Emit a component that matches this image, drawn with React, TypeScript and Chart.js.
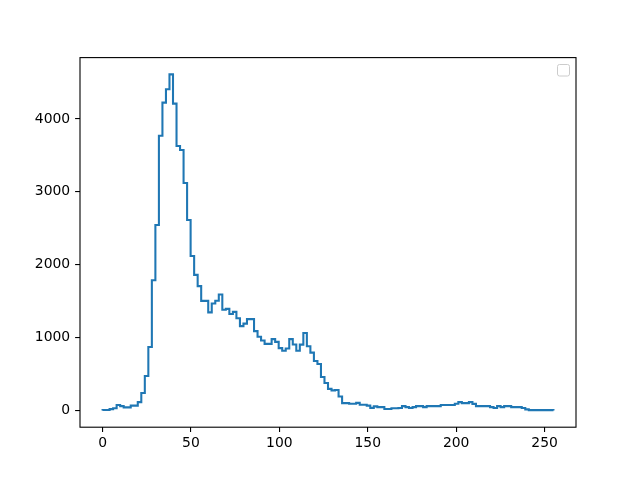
import React, { useEffect, useRef } from "react";
import { Chart, registerables } from "chart.js";

Chart.register(...registerables);

// Histogram counts (128 bins spanning 0..255)
const counts: number[] = [
  5, 5, 18, 30, 73, 59, 41, 41, 65, 65,
  114, 238, 471, 870, 1787, 2545, 3768, 4224, 4408, 4611,
  4210, 3629, 3574, 3120, 2612, 2119, 1860, 1706, 1503, 1503,
  1345, 1466, 1505, 1590, 1382, 1393, 1322, 1352, 1265, 1157,
  1191, 1253, 1253, 1088, 1010, 960, 913, 913, 978, 940,
  855, 818, 850, 978, 905, 818, 903, 1063, 880, 793,
  678, 637, 458, 375, 295, 275, 280, 190, 100, 100,
  92, 92, 103, 78, 78, 65, 35, 55, 45, 45,
  20, 20, 30, 30, 32, 59, 45, 32, 45, 59,
  59, 45, 59, 59, 59, 59, 73, 73, 73, 73,
  92, 114, 100, 100, 114, 90, 59, 59, 59, 59,
  45, 32, 59, 45, 59, 59, 45, 45, 45, 32,
  14, 4, 4, 4, 4, 4, 4, 4,
];

const BIN_MIN = 0;
const BIN_MAX = 255;

const X_TICKS = [0, 50, 100, 150, 200, 250];
const Y_TICKS = [0, 1000, 2000, 3000, 4000];

const FONT = { family: "'DejaVu Sans', sans-serif", size: 13.9 };

export default function App() {
  const ref = useRef<HTMLCanvasElement | null>(null);

  useEffect(() => {
    if (!ref.current) return;
    const n = counts.length;
    const w = (BIN_MAX - BIN_MIN) / n;
    const pts: { x: number; y: number }[] = [{ x: BIN_MIN, y: 0 }];
    counts.forEach((c, i) => pts.push({ x: BIN_MIN + i * w, y: c }));
    pts.push({ x: BIN_MAX, y: counts[n - 1] });
    pts.push({ x: BIN_MAX, y: 0 });

    const xRange = BIN_MAX - BIN_MIN;
    const yMaxData = Math.max(...counts);
    const yMinData = 0;
    const yRange = yMaxData - yMinData;

    const framePlugin = {
      id: "frame",
      afterDraw(chart: any) {
        const { ctx, chartArea: a } = chart;
        ctx.save();
        ctx.strokeStyle = "#000";
        ctx.lineWidth = 1.1;
        ctx.strokeRect(a.left, a.top, a.right - a.left, a.bottom - a.top);
        // empty legend box
        ctx.beginPath();
        ctx.fillStyle = "rgba(255,255,255,0.8)";
        ctx.strokeStyle = "#cccccc";
        ctx.lineWidth = 1;
        (ctx as any).roundRect(557.5, 64.5, 12, 11.5, 2);
        ctx.fill();
        ctx.stroke();
        ctx.restore();
      },
    };

    const chart = new Chart(ref.current, {
      type: "line",
      data: {
        datasets: [
          {
            data: pts,
            borderColor: "#1f77b4",
            borderWidth: 2.08,
            pointRadius: 0,
            fill: false,
            stepped: "before",
            tension: 0,
          },
        ],
      },
      options: {
        animation: false,
        responsive: false,
        devicePixelRatio: 1,
        layout: { padding: { left: 0, top: 57.6, right: 64, bottom: 0 } },
        plugins: { legend: { display: false }, tooltip: { enabled: false } },
        scales: {
          x: {
            type: "linear",
            min: BIN_MIN - 0.05 * xRange,
            max: BIN_MAX + 0.05 * xRange,
            afterFit: (s: any) => {
              s.height = 52.8;
            },
            afterBuildTicks: (s: any) => {
              s.ticks = X_TICKS.map((v) => ({ value: v }));
            },
            grid: {
              display: true,
              drawOnChartArea: false,
              drawTicks: true,
              tickLength: 4.9,
              color: "#000",
              lineWidth: 1.1,
            },
            border: { display: false },
            ticks: {
              color: "#000",
              font: FONT,
              padding: 3,
              maxRotation: 0,
              autoSkip: false,
              callback: (v: any) => String(v),
            },
          },
          y: {
            type: "linear",
            min: yMinData - 0.05 * yRange,
            max: yMaxData + 0.05 * yRange,
            afterFit: (s: any) => {
              s.width = 80;
            },
            afterBuildTicks: (s: any) => {
              s.ticks = Y_TICKS.map((v) => ({ value: v }));
            },
            grid: {
              display: true,
              drawOnChartArea: false,
              drawTicks: true,
              tickLength: 4.9,
              color: "#000",
              lineWidth: 1.1,
            },
            border: { display: false },
            ticks: {
              color: "#000",
              font: FONT,
              padding: 4.9,
              autoSkip: false,
              callback: (v: any) => String(v),
            },
          },
        },
      },
      plugins: [framePlugin],
    });
    return () => chart.destroy();
  }, []);

  return (
    <div style={{ position: "fixed", left: 0, top: 0, width: 640, height: 480, background: "#fff" }}>
      <canvas ref={ref} width={640} height={480} style={{ width: 640, height: 480 }} />
    </div>
  );
}
